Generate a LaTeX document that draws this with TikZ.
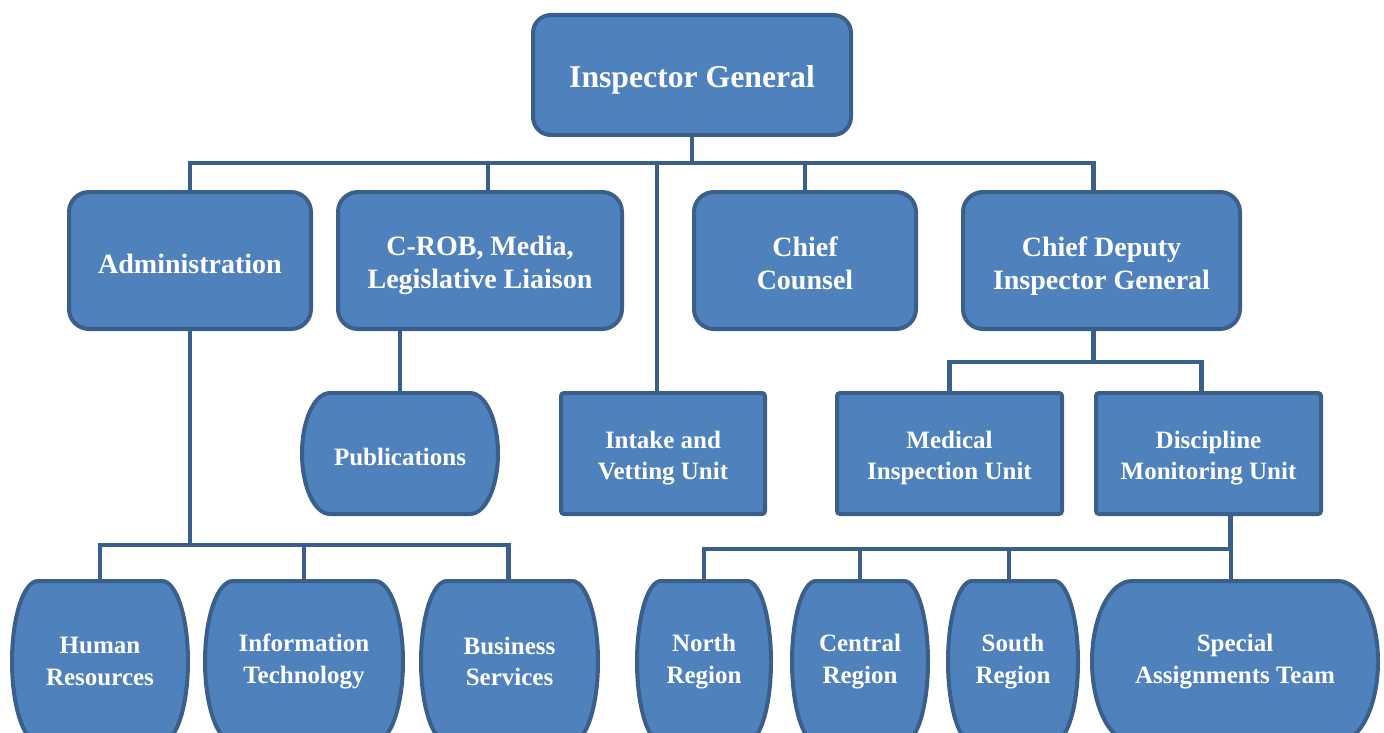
\documentclass[tikz,border=0pt]{standalone}
\usepackage{fontspec}
\setmainfont{Liberation Serif}
\usetikzlibrary{positioning}
\usetikzlibrary{calc}
\pgfdeclarelayer{chartbg}
\pgfsetlayers{chartbg,main}
\definecolor{boxfill}{HTML}{4F81BD}
\definecolor{boxedge}{HTML}{3A5F8B}

\begin{document}
\begin{tikzpicture}[x=1pt,y=1pt,
	unit/.style={draw=boxedge,line width=4pt,fill=boxfill,text=white,outer sep=0pt,inner sep=0pt,align=center,font=\bfseries\fontsize{25}{31.5}\selectfont},
	strutline/.style={execute at begin node={\rule{0pt}{#1}}},
	rbox/.style={unit,rounded corners=20pt,minimum height=137pt,font=\bfseries\fontsize{28}{33}\selectfont,strutline=27pt},
	sbox/.style={unit,rounded corners=3pt,minimum height=121pt,strutline=58pt},
	barrel/.style={unit,draw=none,fill=none},
	barrelline/.style={draw=boxedge,line width=4pt,fill=boxfill},
	link/.style={draw=boxedge,line width=4.5pt}]
	
	\useasboundingbox (0,0) rectangle (1384,-733);
	\clip (0,0) rectangle (1384,-733);
	
	\node [rbox, minimum width=318pt, minimum height=120pt, rounded corners=18pt, font=\bfseries\fontsize{31.7}{38}\selectfont, strutline=32pt] at (692,-75) (1IG) {Inspector General};
	\node [rbox, minimum width=242pt, below=57pt of 1IG, xshift=-502pt, strutline=23pt] (2Adm) {Administration};
	\node [rbox, minimum width=284pt, below=57pt of 1IG, xshift=-212pt, strutline=62pt] (2Crob) {C-ROB, Media,\\Legislative Liaison};
	\node [rbox, minimum width=222pt, below=57pt of 1IG, xshift=113pt, strutline=58pt] (2Chief) {Chief\\Counsel};
	\node [rbox, minimum width=277pt, below=57pt of 1IG, xshift=409.5pt, strutline=64pt] (2Dep) {Chief Deputy\\Inspector General};
	\node [barrel, minimum width=196pt, minimum height=121pt, below=64pt of 2Crob, xshift=-80pt, strutline=24pt] (3Pub) {Publications};
	\node [sbox, minimum width=204pt, right=63pt of 3Pub] (3Int) {Intake and\\Vetting Unit};
	\node [sbox, minimum width=225pt, right=72pt of 3Int] (3Med) {Medical\\Inspection Unit};
	\node [sbox, minimum width=225pt, right=34pt of 3Med] (3Disc) {Discipline\\Monitoring Unit};
	\node [barrel, minimum width=176pt, minimum height=161pt, below=67pt of 3Pub, xshift=-300pt] (4HR) {Human\\Resources};
	\node [barrel, minimum width=198pt, minimum height=161pt, right=17pt of 4HR] (4IT) {Information\\Technology};
	\node [barrel, minimum width=177pt, minimum height=161pt, right=18pt of 4IT] (4BS) {Business\\Services};
	\node [barrel, minimum width=134pt, minimum height=161pt, right=39pt of 4BS] (4North) {North\\Region};
	\node [barrel, minimum width=136pt, minimum height=161pt, right=21pt of 4North] (4Cen) {Central\\Region};
	\node [barrel, minimum width=130pt, minimum height=161pt, right=20pt of 4Cen] (4Sou) {South\\Region};
	\node [barrel, minimum width=286pt, minimum height=161pt, right=14pt of 4Sou] (4SAT) {Special\\Assignments Team};
	
	% barrel outlines behind the text
	\begin{pgfonlayer}{chartbg}
	\foreach \n/\rx/\ry in {3Pub/28/60.5, 4HR/26/80.5, 4IT/28/80.5, 4BS/26/80.5, 4North/24/80.5, 4Cen/24/80.5, 4Sou/24/80.5, 4SAT/40/80.5}
		\draw [barrelline] ($(\n.north west)+(\rx,0)$) -- ($(\n.north east)-(\rx,0)$) arc[start angle=90, end angle=-90, x radius=\rx pt, y radius=\ry pt] -- ($(\n.south west)+(\rx,0)$) arc[start angle=270, end angle=90, x radius=\rx pt, y radius=\ry pt] -- cycle;
	\end{pgfonlayer}
	
	\draw [link] (1IG.south) -- ++(0,-28) coordinate (bus1);
	\draw [link] (2Adm.north) |- (bus1) -| ([xshift=-8pt]2Dep.north);
	\draw [link] ([xshift=8pt]2Crob.north) |- (bus1); \draw [link] (2Chief.north) |- (bus1);
	\draw [link] ([xshift=-6pt]3Int.north) |- (bus1);
	\draw [link] (3Pub.north) -- (3Pub.north |- 2Crob.south);
	\draw [link] (2Adm.south) -- ++(0,-216) coordinate (bus2);
	\draw [link] (4HR.north) |- (bus2) -| ([xshift=-1pt]4BS.north); \draw [link] (4IT.north) |- (bus2);
	\draw [link] ([xshift=-8pt]2Dep.south) -- ++(0,-33) coordinate (bus3);
	\draw [link] (3Med.north) |- (bus3) -| ([xshift=-7pt]3Disc.north);
	\draw [link] ([xshift=22pt]3Disc.south) -- ++(0,-35) coordinate (bus4);
	\draw [link] (4North.north) |- (bus4) -| ([xshift=-4pt]4SAT.north);
	\draw [link] (4Cen.north) |- (bus4); \draw [link] ([xshift=-4pt]4Sou.north) |- (bus4);
\end{tikzpicture}
\end{document}
